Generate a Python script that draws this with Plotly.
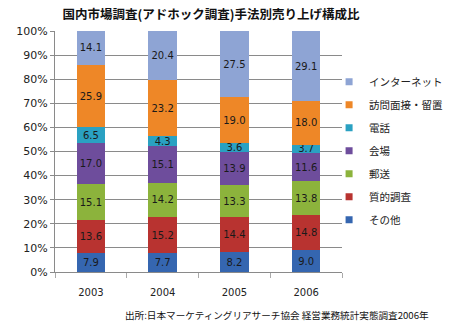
import plotly.graph_objects as go

years = ["2003", "2004", "2005", "2006"]
series_names = ["その他", "質的調査", "郵送", "会場", "電話", "訪問面接・留置", "インターネット"]
sonota = [7.9, 7.7, 8.2, 9.0]
shitsuteki = [13.6, 15.2, 14.4, 14.8]
yuso = [15.1, 14.2, 13.3, 13.8]
kaijo = [17.0, 15.1, 13.9, 11.6]
denwa = [6.5, 4.3, 3.6, 3.7]
homon = [25.9, 23.2, 19.0, 18.0]
internet = [14.1, 20.4, 27.5, 29.1]
series_values = [sonota, shitsuteki, yuso, kaijo, denwa, homon, internet]
colors = ["#3566B0", "#B83330", "#8CB33C", "#6E4D9C", "#2AA1C2", "#EE8727", "#8EA4D4"]

font_jp = "Noto Sans CJK JP"

fig = go.Figure()
for name, vals, col in zip(series_names, series_values, colors):
    fig.add_trace(go.Bar(
        x=years, y=vals, name=name,
        marker=dict(color=col, line=dict(width=0)),
        text=[f"{v:.1f}" for v in vals],
        textposition="inside", insidetextanchor="middle", textangle=0,
        textfont=dict(size=10, color="#1a1a1a", family="DejaVu Sans"),
        showlegend=False,
    ))

# legend entries (small square markers), top to bottom as in the reference
for name, col in reversed(list(zip(series_names, colors))):
    fig.add_trace(go.Scatter(
        x=[None], y=[None], mode="markers", name=name,
        marker=dict(symbol="square", size=7, color=col),
        legendgroup=name, showlegend=True, hoverinfo="skip",
    ))

fig.update_layout(
    barmode="stack", barnorm="percent", bargap=0.6,
    width=460, height=332,
    margin=dict(l=55, r=107, t=31, b=60),
    paper_bgcolor="white", plot_bgcolor="white",
    title=dict(text="<b>国内市場調査(アドホック調査)手法別売り上げ構成比</b>",
               x=211 / 460, xanchor="center", y=1 - 15 / 332, yanchor="middle",
               font=dict(size=12.5, color="#111", family=font_jp)),
    uniformtext=dict(minsize=10, mode="show"),
    legend=dict(x=0.955, y=0.85, xanchor="left", yanchor="top",
                traceorder="grouped", tracegroupgap=4,
                bgcolor="rgba(0,0,0,0)",
                font=dict(size=10.5, color="#222", family=font_jp)),
    font=dict(family=font_jp),
)
fig.update_yaxes(range=[0, 100], dtick=10, ticksuffix="%",
                 showgrid=True, gridcolor="#8a8a8a", gridwidth=1,
                 showline=True, linecolor="#8a8a8a", ticks="outside", ticklen=4,
                 tickcolor="#8a8a8a",
                 tickfont=dict(size=11, color="#222", family="DejaVu Sans"))
fig.update_xaxes(showline=True, linecolor="#8a8a8a", ticks="outside",
                 tickson="boundaries", ticklen=5, tickcolor="#aaaaaa",
                 ticklabelstandoff=11,
                 tickfont=dict(size=10, color="#222", family="DejaVu Sans"))

fig.add_annotation(text="出所:日本マーケティングリアサーチ協会 経営業務統計実態調査2006年",
                   xref="paper", yref="paper", x=(445 - 55) / 298, y=-(315 - 272) / 241,
                   xanchor="right", yanchor="middle", showarrow=False,
                   font=dict(size=9.6, color="#111", family=font_jp))

fig.write_html("out.html")
